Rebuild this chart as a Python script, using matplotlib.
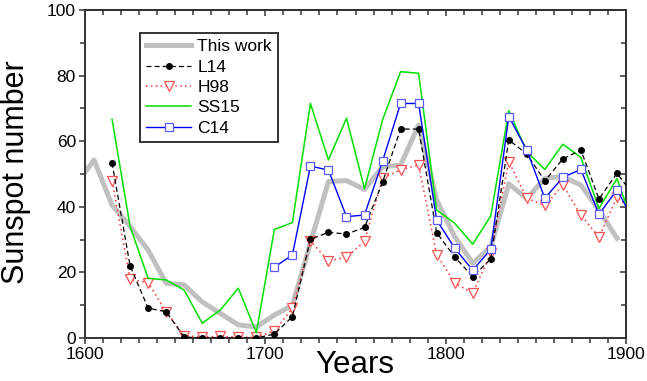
import matplotlib
matplotlib.use('Agg')
import matplotlib.pyplot as plt
from matplotlib.ticker import MultipleLocator

plt.rcParams['font.family'] = ['Liberation Sans', 'DejaVu Sans']

# "This work" reconstruction (grey band)
work_years = [1600, 1605, 1615, 1625, 1635, 1645, 1655, 1665, 1675, 1685, 1695,
              1705, 1715, 1725, 1735, 1745, 1755, 1765, 1775, 1785, 1795,
              1805, 1815, 1825, 1835, 1845, 1855, 1865, 1875, 1885, 1895]
work_vals = [50.5, 54.3, 40.5, 34, 26.8, 16.7, 16.2, 11, 7.5, 4, 3.4,
             7, 10, 29, 47.7, 48, 45.3, 52.2, 52.7, 64.9, 42.1,
             30.9, 22.8, 27.8, 47, 42.5, 48.7, 49.2, 46.6, 39, 30.4]

# decadal series of the other reconstructions
dec_years = [1615, 1625, 1635, 1645, 1655, 1665, 1675, 1685, 1695,
             1705, 1715, 1725, 1735, 1745, 1755, 1765, 1775, 1785, 1795,
             1805, 1815, 1825, 1835, 1845, 1855, 1865, 1875, 1885, 1895, 1905]
l14 = [53.4, 22, 9.1, 8, 0.3, 0, 0, 0, 0,
       1.2, 6.5, 30.1, 32.2, 31.7, 33.7, 47.5, 63.7, 63.7, 32.1,
       24.7, 18.7, 24.1, 60.4, 56.1, 47.9, 54.6, 57.3, 42.4, 50.2, 43]
h98 = [47.9, 17.9, 16.9, 8, 0.7, 0.3, 0.5, 0.3, 0.2,
       2.2, 9, 29.6, 23.5, 24.6, 29.5, 48.7, 51.3, 52.7, 25.4,
       16.8, 13.6, 25.8, 53.8, 42.6, 40.4, 46.6, 37.5, 30.7, 43, 38]
ss15 = [66.7, 34, 18.2, 17.7, 14.6, 4.5, 8.5, 15.2, 1.6,
        33.1, 35.2, 71.5, 54.3, 67, 45.5, 66.5, 81.2, 80.7, 39,
        35, 28.6, 37.2, 69.3, 56.8, 51.4, 59.1, 55, 39.5, 48.6, 33]
c14_years = dec_years[9:]
c14 = [21.6, 25.3, 52.4, 51.2, 37, 37.5, 53.9, 71.5, 71.5, 36,
       27.4, 20.7, 27, 67.5, 57.3, 42.6, 49, 51.4, 37.7, 45.2, 35]

fig = plt.figure(figsize=(6.47, 3.81), dpi=100)
ax = fig.add_axes([85 / 647, 43 / 381, 541 / 647, 328 / 381])

ax.plot(work_years, work_vals, color='#c0c0c0', lw=3.6, label='This work',
        solid_joinstyle='round', zorder=2)
ax.plot(dec_years, l14, color='black', ls=(0, (4, 2.5)), lw=0.9, marker='o',
        ms=4, mfc='black', mec='black', label='L14', zorder=4)
ax.plot(dec_years, h98, color='#ff3030', ls=(0, (1, 2.2)), lw=1.1, marker='v',
        ms=7.5, mfc='white', mec='#ff5050', mew=0.9, label='H98', zorder=3)
ax.plot(dec_years, ss15, color='#00e000', lw=1.1, label='SS15', zorder=3)
ax.plot(c14_years, c14, color='#0000ff', lw=1.0, marker='s', ms=5.5,
        mfc='white', mec='#5a5aff', mew=0.9, label='C14', zorder=4)

ax.set_xlim(1600, 1900)
ax.set_ylim(0, 100)
ax.xaxis.set_major_locator(MultipleLocator(100))
ax.xaxis.set_minor_locator(MultipleLocator(10))
ax.yaxis.set_major_locator(MultipleLocator(20))
ax.yaxis.set_minor_locator(MultipleLocator(10))

for s in ax.spines.values():
    s.set_linewidth(1.4)
    s.set_color('#333333')

ax.tick_params(which='both', direction='out', top=False, right=False,
               labelsize=12.5, color='#333333', width=1.1, pad=2)
ax.tick_params(which='major', length=4.5)
ax.tick_params(which='minor', length=3.5)

top = ax.secondary_xaxis('top')
top.xaxis.set_major_locator(MultipleLocator(100))
top.xaxis.set_minor_locator(MultipleLocator(10))
top.tick_params(which='both', direction='in', labeltop=False, color='#333333', width=1.1)
top.tick_params(which='major', length=4.5)
top.tick_params(which='minor', length=3.5)
top.spines['top'].set_linewidth(1.4)

right = ax.secondary_yaxis('right')
right.yaxis.set_major_locator(MultipleLocator(20))
right.yaxis.set_minor_locator(MultipleLocator(10))
right.tick_params(which='both', direction='in', labelright=False, color='#333333', width=1.1)
right.tick_params(which='major', length=4.5)
right.tick_params(which='minor', length=3.5)
right.spines['right'].set_linewidth(1.4)
right.spines['right'].set_color('#555555')

leg = ax.legend(loc='upper left', bbox_to_anchor=((140 - 85) / 541, (338 - 33) / 328),
                fontsize=12.5, frameon=True, fancybox=False, borderpad=0.35,
                labelspacing=0.3, handlelength=2.6, handletextpad=0.35,
                borderaxespad=0)
leg.get_frame().set_edgecolor('black')
leg.get_frame().set_linewidth(1.4)

fig.text(355 / 647, 1 - 373 / 381, 'Years', fontsize=22.5, ha='center', va='baseline')
fig.text(24 / 647, 1 - 172 / 381, 'Sunspot number', fontsize=22, rotation=90,
         ha='center', va='baseline', rotation_mode='anchor')

fig.savefig('out.png', dpi=100)
